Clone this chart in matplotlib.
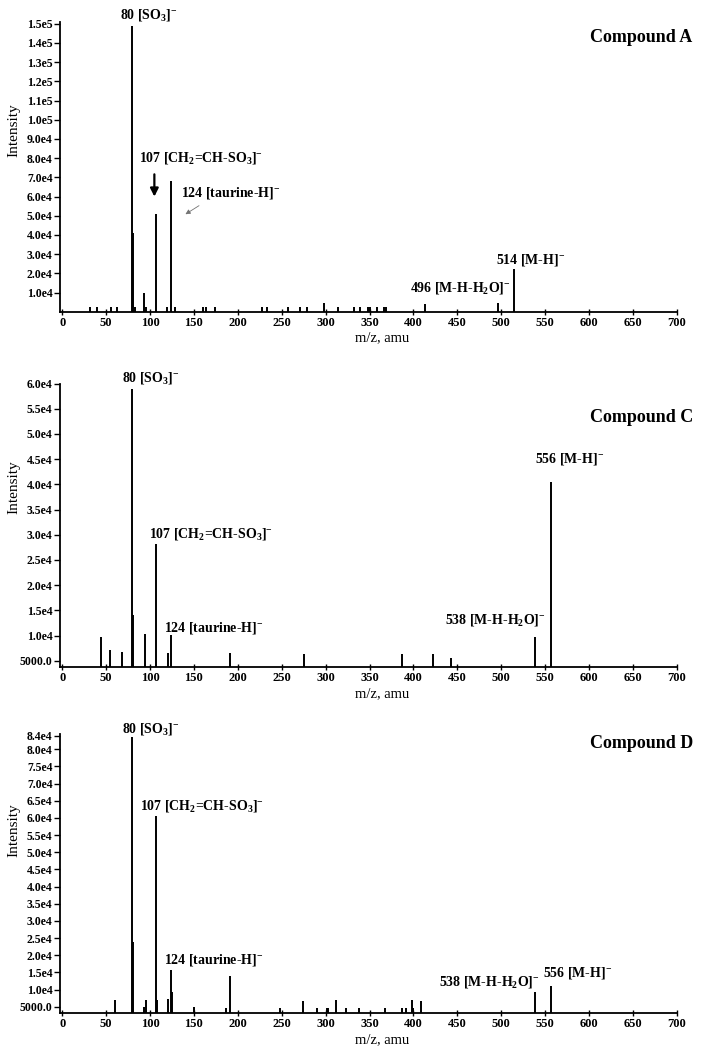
import numpy as np
import matplotlib
matplotlib.use('Agg')
import matplotlib.pyplot as plt

plt.rcParams['font.family'] = ['Liberation Serif', 'DejaVu Serif']
plt.rcParams['mathtext.fontset'] = 'custom'
plt.rcParams['mathtext.rm'] = 'Liberation Serif:bold'
plt.rcParams['mathtext.it'] = 'Liberation Serif:bold'
plt.rcParams['mathtext.bf'] = 'Liberation Serif:bold'
plt.rcParams['mathtext.default'] = 'rm'

a_mz = [32, 40, 56, 62, 80, 81, 83, 93, 95, 107, 119, 124, 129, 160, 164, 174,
        228, 233, 257, 271, 279, 298, 314, 332, 339, 348, 350, 358, 366, 369,
        413, 496, 514]
a_int = [2.4e3, 2.4e3, 2.4e3, 2.4e3, 1.49e5, 4.1e4, 2.4e3, 9.6e3, 2.4e3, 5.1e4,
         2.4e3, 6.8e4, 2.4e3, 2.4e3, 2.4e3, 2.4e3, 2.4e3, 2.4e3, 2.4e3, 2.4e3,
         2.4e3, 4.3e3, 2.4e3, 2.4e3, 2.4e3, 2.4e3, 2.4e3, 2.4e3, 2.4e3, 2.4e3,
         3.8e3, 4.3e3, 2.2e4]

c_mz = [44, 54, 68, 80, 81, 94, 107, 120, 124, 191, 275, 387, 422, 443, 538, 556]
c_int = [9.7e3, 7.1e3, 6.75e3, 5.9e4, 1.4e4, 1.03e4, 2.82e4, 6.6e3, 1.02e4,
         6.6e3, 6.3e3, 6.4e3, 6.4e3, 5.6e3, 9.7e3, 4.05e4]

d_mz = [60, 80, 81, 93, 95, 107, 108, 120, 124, 125, 150, 186, 191, 248, 274,
        290, 301, 303, 312, 323, 338, 368, 387, 392, 398, 400, 408, 538, 556]
d_int = [6.95e3, 8.35e4, 2.4e4, 5.0e3, 6.95e3, 6.05e4, 6.95e3, 7.2e3, 1.57e4,
         9.2e3, 4.8e3, 4.6e3, 1.40e4, 4.6e3, 6.7e3, 4.6e3, 4.6e3, 4.6e3, 6.95e3,
         4.6e3, 4.6e3, 4.6e3, 4.6e3, 4.6e3, 6.95e3, 4.6e3, 6.7e3, 9.4e3, 1.1e4]

a_yticks = [1e4 * k for k in range(1, 16)]
c_yticks = [5e3 * k for k in range(1, 13)]
d_yticks = [5e3 * k for k in range(1, 17)] + [8.4e4]
x_ticks = list(range(0, 701, 50))

lab_so3 = '80 [SO$_3$]$^{-}$'
lab_vin = '107 [CH$_2$=CH-SO$_3$]$^{-}$'
lab_tau = '124 [taurine-H]$^{-}$'

W, H = 710, 1050


def fmt(v):
    # 5000.0, 1.0e4, 1.5e5 ...
    if v < 1e4:
        return f'{v:.1f}'
    m, e = f'{v:.1e}'.split('e')
    return f'{m}e{int(e)}'


def panel(ax, mz, inten, yticks, ylim):
    ax.vlines(mz, 0, inten, color='black', lw=1.4)
    ax.set_xlim(-3, 700)
    ax.set_ylim(*ylim)
    ax.spines['top'].set_visible(False)
    ax.spines['right'].set_visible(False)
    ax.spines['left'].set_linewidth(1.3)
    ax.spines['bottom'].set_linewidth(1.3)
    ax.set_yticks(yticks)
    ax.set_yticklabels([fmt(v) for v in yticks], fontweight='bold', fontsize=8.5)
    ax.set_xticks(x_ticks)
    ax.set_xticklabels([str(v) for v in x_ticks], fontweight='bold', fontsize=9)
    ax.tick_params(axis='y', direction='out', length=4, width=1, pad=1)
    ax.tick_params(axis='x', direction='inout', length=5, width=1, pad=1)


def box(top_px, bottom_px):
    return [59.5 / W, 1 - bottom_px / H, (677 - 59.5) / W, (bottom_px - top_px) / H]


fig = plt.figure(figsize=(7.1, 10.5), dpi=100)
tb = dict(fontsize=10, fontweight='bold', va='center', ha='left', clip_on=False)

# ---- COMPOUND A
axA = fig.add_axes(box(21.8, 311.7))
panel(axA, a_mz, a_int, a_yticks, (0, 1.51e5))
axA.text(65.5, 1.545e5, lab_so3, **tb)
axA.text(87, 8.03e4, lab_vin, **tb)
axA.text(135, 6.18e4, lab_tau, **tb)
axA.text(494, 2.69e4, '514 [M-H]$^{-}$', **tb)
axA.text(396, 1.25e4, '496 [M-H-H$_2$O]$^{-}$', **tb)
axA.annotate('', xy=(105, 5.85e4), xytext=(105, 7.3e4),
             arrowprops=dict(arrowstyle='-|>', lw=1.6, color='black', mutation_scale=12))
axA.annotate('', xy=(137.7, 5.0e4), xytext=(158.5, 5.6e4),
             arrowprops=dict(arrowstyle='-|>', lw=0.6, color='0.45', mutation_scale=7))

# ---- COMPOUND C
axC = fig.add_axes(box(383.5, 667.3))
panel(axC, c_mz, c_int, c_yticks, (3700, 6.0e4))
axC.text(67.9, 6.103e4, lab_so3, **tb)
axC.text(98.4, 3.015e4, lab_vin, **tb)
axC.text(115.9, 1.15e4, lab_tau, **tb)
axC.text(538, 4.50e4, '556 [M-H]$^{-}$', **tb)
axC.text(436, 1.31e4, '538 [M-H-H$_2$O]$^{-}$', **tb)

# ---- COMPOUND D
axD = fig.add_axes(box(733.9, 1013.3))
panel(axD, d_mz, d_int, d_yticks, (3077, 8.45e4))
axD.text(67.9, 8.59e4, lab_so3, **tb)
axD.text(88.7, 6.35e4, lab_vin, **tb)
axD.text(115.9, 1.86e4, lab_tau, **tb)
axD.text(547.8, 1.482e4, '556 [M-H]$^{-}$', **tb)
axD.text(428.8, 1.23e4, '538 [M-H-H$_2$O]$^{-}$', **tb)

# TITULOS Y ETIQUETAS DE EJES (posiciones en pixeles de la figura)
for ypx, t in [(37.5, 'Compound A'), (418, 'Compound C'), (743, 'Compound D')]:
    fig.text(590 / W, 1 - ypx / H, t, fontsize=13, fontweight='bold', va='center', ha='left')
for ypx in [130, 487, 830]:
    fig.text(14 / W, 1 - ypx / H, 'Intensity', fontsize=11, rotation=90, va='center', ha='center')
for ypx in [338, 694, 1040]:
    fig.text(382 / W, 1 - ypx / H, 'm/z, amu', fontsize=10.5, va='center', ha='center')

fig.savefig('out.png', dpi=100, facecolor='white')
